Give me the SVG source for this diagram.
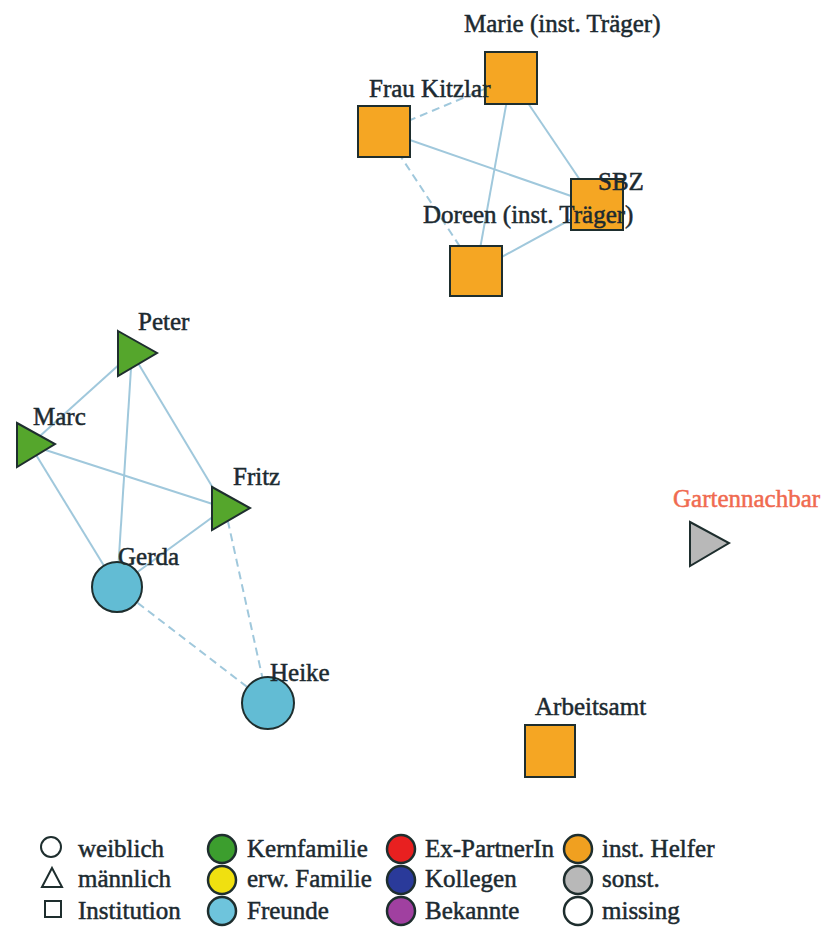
<svg xmlns="http://www.w3.org/2000/svg" width="834" height="931" viewBox="0 0 834 931">
<style>
text{font-family:"Liberation Serif","Times New Roman",serif;font-size:25px;fill:#1c2a30;stroke:#1c2a30;stroke-width:0.5}
.e{stroke:#a0c8dc;stroke-width:2;fill:none}
.d{stroke-dasharray:8 5}
.n{stroke:#1e2e2e;stroke-width:2}
.or{fill:#f5a623}
.gr{fill:#55a62c}
.cy{fill:#62bcd4}
.gy{fill:#b8b8b8}
.ls{fill:none;stroke:#1e2e2e;stroke-width:2}
.lc{stroke:#1e2e2e;stroke-width:2.5}
</style>
<rect width="834" height="931" fill="#ffffff"/>
<g id="connectors">
<line class="e d" x1="384" y1="131" x2="511" y2="78"/>
<line class="e" x1="384" y1="131" x2="597" y2="205"/>
<line class="e d" x1="384" y1="131" x2="476" y2="271"/>
<line class="e" x1="511" y1="78" x2="597" y2="205"/>
<line class="e" x1="511" y1="78" x2="476" y2="271"/>
<line class="e" x1="476" y1="271" x2="597" y2="205"/>
<line class="e" x1="132" y1="353" x2="30" y2="445"/>
<line class="e" x1="132" y1="353" x2="117" y2="587"/>
<line class="e" x1="132" y1="353" x2="225" y2="508"/>
<line class="e" x1="30" y1="445" x2="225" y2="508"/>
<line class="e" x1="30" y1="445" x2="117" y2="587"/>
<line class="e" x1="225" y1="508" x2="117" y2="587"/>
<line class="e d" x1="225" y1="508" x2="268" y2="703"/>
<line class="e d" x1="117" y1="587" x2="268" y2="703"/>
</g>
<g id="node-marie"><rect class="n or" x="485" y="52" width="52" height="52"/><text x="464" y="32">Marie (inst. Träger)</text></g>
<g id="node-kitzlar"><rect class="n or" x="358" y="106" width="52" height="51"/><text x="369" y="97">Frau Kitzlar</text></g>
<g id="node-sbz"><rect class="n or" x="571" y="179" width="52" height="51"/><text x="598" y="190">SBZ</text></g>
<g id="node-doreen"><rect class="n or" x="450" y="246" width="52" height="50"/><text x="423" y="223">Doreen (inst. Träger)</text></g>
<g id="node-peter"><polygon class="n gr" points="118,331 157,353 118,376"/><text x="138" y="330">Peter</text></g>
<g id="node-marc"><polygon class="n gr" points="17,423 55,444 17,467"/><text x="33" y="425">Marc</text></g>
<g id="node-fritz"><polygon class="n gr" points="212,487 250,508 212,530"/><text x="233" y="485">Fritz</text></g>
<g id="node-gerda"><circle class="n cy" cx="117" cy="587" r="25"/><text x="118" y="565">Gerda</text></g>
<g id="node-heike"><circle class="n cy" cx="268" cy="703" r="26"/><text x="270" y="681">Heike</text></g>
<g id="node-gartennachbar"><polygon class="n gy" points="690,522 729,543 690,566"/><text x="673" y="507" style="fill:#f06a50;stroke:#f06a50">Gartennachbar</text></g>
<g id="node-arbeitsamt"><rect class="n or" x="525" y="725" width="50" height="52"/><text x="535" y="715">Arbeitsamt</text></g>
<g id="legend">
<circle class="ls" cx="51" cy="847" r="10"/><text x="78" y="857">weiblich</text>
<polygon class="ls" points="52,868 62,887 42,887"/><text x="78" y="887">männlich</text>
<rect class="ls" x="45" y="901" width="16" height="16"/><text x="78" y="919">Institution</text>
<circle class="lc" cx="222" cy="849" r="14" fill="#3c9e2e"/><text x="247" y="857">Kernfamilie</text>
<circle class="lc" cx="222" cy="880" r="14" fill="#f0e010"/><text x="247" y="887">erw. Familie</text>
<circle class="lc" cx="222" cy="911" r="14" fill="#6ec4dc"/><text x="247" y="919">Freunde</text>
<circle class="lc" cx="401" cy="849" r="14" fill="#e82020"/><text x="425" y="857">Ex-PartnerIn</text>
<circle class="lc" cx="401" cy="880" r="14" fill="#2a3a9a"/><text x="425" y="887">Kollegen</text>
<circle class="lc" cx="401" cy="911" r="14" fill="#a040a0"/><text x="425" y="919">Bekannte</text>
<circle class="lc" cx="578" cy="849" r="14" fill="#f0a020"/><text x="602" y="857">inst. Helfer</text>
<circle class="lc" cx="578" cy="880" r="14" fill="#b8b8b8"/><text x="602" y="887">sonst.</text>
<circle class="lc" cx="578" cy="911" r="14" fill="#ffffff"/><text x="602" y="919">missing</text>
</g>
</svg>
